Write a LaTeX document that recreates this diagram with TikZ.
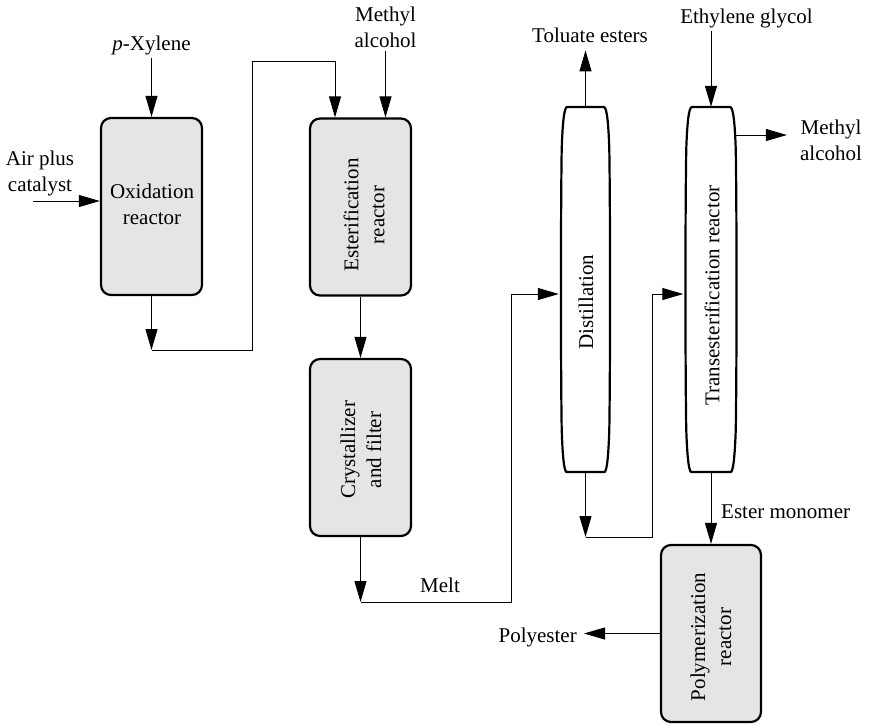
\documentclass[tikz,border=0pt]{standalone}
\usepackage{fontspec}
\setmainfont{Liberation Serif}
\usetikzlibrary{arrows.meta}
\definecolor{boxgray}{gray}{0.9}
\begin{document}
\begin{tikzpicture}[x=1pt,y=-1pt,
  every node/.style={font=\fontsize{21}{26}\selectfont},
  box/.style={draw, line width=2.2pt, rounded corners=10pt, fill=boxgray,
    minimum width=101pt, minimum height=177pt, inner sep=0pt},
  lbl/.style={inner sep=3pt, align=center},
  blbl/.style={inner sep=0pt, align=center},
  rlbl/.style={inner sep=0pt, align=center, rotate=90},
  arr/.style={line width=1pt, -{Triangle[length=21pt,width=12pt]}},
  colnode/.style={minimum width=49pt, minimum height=365pt, inner sep=0pt},
  colline/.style={line width=2.2pt, line join=round},
  column/.pic={
    \draw[colline] (18.5,-182.5) .. controls (21.5,-182) and (23,-165) .. (23.8,-140)
      .. controls (24.8,-80) and (24.8,80) .. (23.8,140)
      .. controls (23,165) and (21.5,182) .. (19,182.5) -- (-19,182.5)
      .. controls (-21.5,182) and (-23,165) .. (-23.8,140)
      .. controls (-24.8,80) and (-24.8,-80) .. (-23.8,-140)
      .. controls (-23,-165) and (-21.5,-182) .. (-18.5,-182.5) -- cycle;
  }]
\useasboundingbox (0,0) rectangle (871,724);

% process boxes
\node[box] (ox) at (151.5,206.5) {};
\node[box] (est) at (360.5,207) {};
\node[box] (cry) at (360.5,447.5) {};
\node[box, minimum width=100pt] (poly) at (711,633.5) {};

% columns
\node[colnode] (dist) at (585.5,289.5) {};
\node[colnode, minimum width=51pt] (trans) at (711,289.5) {};
\pic at (dist.center) {column};
\pic[xscale=1.04] at (trans.center) {column};

% box labels
\node[blbl] (oxl) at (152,204) {Oxidation\\reactor};
\node[rlbl] (estl) at (364,215) {Esterification\\reactor};
\node[rlbl] (cryl) at (361,450) {Crystallizer\\and filter};
\node[rlbl] (distl) at (586,302) {Distillation};
\node[rlbl] (transl) at (712,295.5) {Transesterification reactor};
\node[rlbl] (polyl2) at (711,637) {Polymerization\\reactor};

% stream labels
\node[lbl, anchor=base] (pxy) at (151.5,50) {\textit{p}-Xylene};
\node[lbl, anchor=south] (meth1) at (385.5,51) {Methyl\\alcohol};
\node[lbl] (air) at (40,173) {Air plus\\catalyst};
\node[lbl, anchor=base] (tol) at (590,42) {Toluate esters};
\node[lbl, anchor=base] (eg) at (746.5,23) {Ethylene glycol};
\node[lbl] (meth2) at (831,140.5) {Methyl\\alcohol};
\node[lbl, anchor=base] (melt) at (440,592) {Melt};
\node[lbl, anchor=base west] (ester) at (718,518) {Ester monomer};
\node[lbl, anchor=base east] (polyl) at (580,642) {Polyester};

% junctions
\coordinate (airin) at (33,201);
\coordinate (j1) at (151.5,350);
\coordinate (j2) at (252,61);
\coordinate (j3) at (360.5,602);
\coordinate (j4) at (511,294);
\coordinate (j5) at (585.5,537);
\coordinate (j6) at (652,294);
\coordinate (mo) at (734,135);

% connectors
\draw[arr] (pxy.south) -- (pxy.south |- ox.north);
\draw[arr] (airin) -- (airin -| ox.west);
\draw[arr] (ox.south) -- (j1);
\draw[arr] (j1) -| (j2) -| ([xshift=-25.5pt]est.north);
\draw[arr] (meth1.south) -- (meth1.south |- est.north);
\draw[arr] (est.south) -- (cry.north);
\draw[arr] (cry.south) -- (j3);
\draw[arr, shorten >=2pt] (j3) -| (j4) -- (j4 -| dist.west);
\draw[arr, shorten >=5pt] (dist.north) -- (dist.north |- tol.south);
\draw[arr] (dist.south) -- (j5);
\draw[arr, shorten >=2pt] (j5) -| (j6) -- (j6 -| trans.west);
\draw[arr] (eg.south -| trans.north) -- (trans.north);
\draw[arr, shorten >=10pt] (mo) -- (mo -| meth2.west);
\draw[arr] (trans.south) -- (poly.north);
\draw[arr, shorten >=4pt] (poly.west) -- (poly.west -| polyl.east);
\end{tikzpicture}
\end{document}
